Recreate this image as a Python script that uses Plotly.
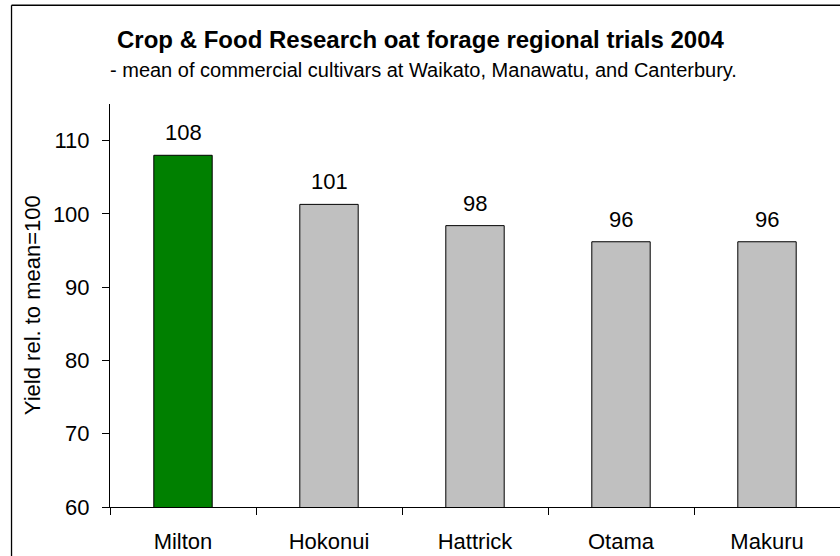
import plotly.graph_objects as go

cultivars = ["Milton", "Hokonui", "Hattrick", "Otama", "Makuru"]
yield_rel = [108.0, 101.3, 98.4, 96.2, 96.2]
bar_colors = ["#008000", "#C0C0C0", "#C0C0C0", "#C0C0C0", "#C0C0C0"]
y_ticks = [60, 70, 80, 90, 100, 110]

FONT = "Liberation Sans, Arial, sans-serif"

fig = go.Figure()
fig.add_trace(go.Bar(
    x=cultivars, y=yield_rel,
    marker=dict(color=bar_colors, line=dict(color="black", width=1)),
    width=0.4,
    hoverinfo="x+y",
))

annotations = []
for c, v in zip(cultivars, yield_rel):
    annotations.append(dict(
        x=c, y=v, xref="x", yref="y", text=f"{v:.0f}", showarrow=False,
        yanchor="bottom", yshift=8, font=dict(family=FONT, size=22, color="black"),
    ))

# title & subtitle
annotations.append(dict(
    x=0.4247, y=1.161, xref="paper", yref="paper", showarrow=False,
    text="<b>Crop & Food Research oat forage regional trials 2004</b>",
    xanchor="center", yanchor="middle", font=dict(family=FONT, size=24, color="black"),
))
annotations.append(dict(
    x=0.429, y=1.0845, xref="paper", yref="paper", showarrow=False,
    text="- mean of commercial cultivars at Waikato, Manawatu, and Canterbury.",
    xanchor="center", yanchor="middle", font=dict(family=FONT, size=20, color="black"),
))
# y axis title
annotations.append(dict(
    x=-0.1068, y=0.501, xref="paper", yref="paper", showarrow=False,
    text="Yield rel. to mean=100", textangle=-90,
    xanchor="center", yanchor="middle", font=dict(family=FONT, size=22, color="black"),
))

fig.update_layout(
    width=840, height=556,
    margin=dict(l=110, r=0, t=104, b=49, pad=0),
    paper_bgcolor="white", plot_bgcolor="white",
    showlegend=False,
    font=dict(family=FONT, size=22, color="black"),
    annotations=annotations,
    shapes=[
        dict(type="line", xref="paper", yref="paper",
             x0=-0.1349, x1=-0.1349, y0=-0.3, y1=1.245,
             line=dict(color="black", width=1.3), layer="above"),
        dict(type="line", xref="paper", yref="paper",
             x0=-0.1349, x1=1.05, y0=1.245, y1=1.245,
             line=dict(color="black", width=1.3), layer="above"),
    ],
    bargap=0.6,
)
fig.update_xaxes(
    showline=True, linecolor="black", linewidth=1,
    ticks="outside", tickson="boundaries", ticklen=7, tickcolor="black",
    showgrid=False, zeroline=False,
    tickfont=dict(family=FONT, size=22, color="black"),
    ticklabelstandoff=15,
)
fig.update_yaxes(
    range=[60, 115], tickvals=y_ticks,
    showline=True, linecolor="black", linewidth=1,
    ticks="outside", ticklen=7, tickcolor="black",
    showgrid=False, zeroline=False,
    tickfont=dict(family=FONT, size=22, color="black"),
    ticklabelstandoff=8,
)

fig.write_html(
    "out.html",
    config={"displayModeBar": False},
    post_script=(
        "document.body.style.margin='0';"
        "document.body.style.overflow='hidden';"
        "document.documentElement.style.overflow='hidden';"
    ),
)
